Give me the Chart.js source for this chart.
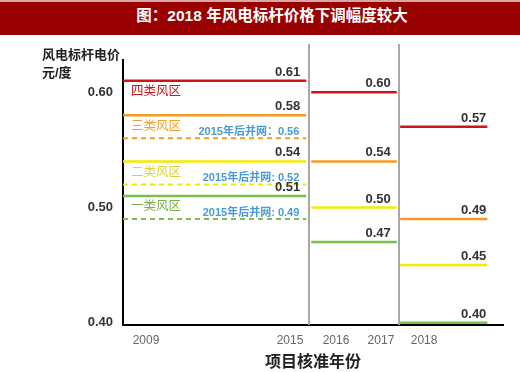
<!DOCTYPE html>
<html lang="zh">
<head>
<meta charset="UTF-8">
<title>风电标杆电价</title>
<script src="https://cdn.jsdelivr.net/npm/chart.js"></script>
<style>
    body {
        margin: 0;
        background: #fff;
        font-family: Arial, "Liberation Sans", "Noto Sans CJK SC", sans-serif;
    }
    .title {
        width: 520px;
        height: 35px;
        box-sizing: border-box;
        border-top: 2px solid #d9a6a6;
        background: #990000;
        color: #fff;
        font-weight: bold;
        font-size: 15.5px;
        line-height: 28px;
        text-align: center;
        padding-left: 24px;
    }
</style>
</head>
<body>
<div class="title">图：2018 年风电标杆价格下调幅度较大</div>
<canvas id="chart" width="520" height="337"></canvas>

<script>
// data
const zones = ['四类风区', '三类风区', '二类风区', '一类风区'];
const years = ['2009', '2015', '2016', '2017', '2018'];
const yTicks = [0.40, 0.50, 0.60];
const price0915 = [0.61, 0.58, 0.54, 0.51];
const price1617 = [0.60, 0.54, 0.50, 0.47];
const price18 = [0.57, 0.49, 0.45, 0.40];
const after2015 = [null, 0.56, 0.52, 0.49];
const after2015Sep = ['', '：', ': ', ': '];

// layout on the x axis (axis units)
const yearPos = [1.03, 7.47, 9.53, 11.54, 13.47];
const periodSpan = [[0, 8.2], [8.42, 12.25], [12.4, 16.3]];
const dividers = [8.31, 12.33];

// styles
const lineColors = ['#d0121b', '#f59a23', '#f5ea00', '#7cbf4a'];
const textColors = ['#d0121b', '#f0a030', '#dcd43a', '#79ae4a'];
const FONT = 'Arial, "Liberation Sans", "Noto Sans CJK SC", sans-serif';

const periods = [price0915, price1617, price18];
const datasets = [];
periods.forEach((prices, p) => {
    prices.forEach((v, z) => {
        datasets.push({
            data: [{ x: periodSpan[p][0], y: v }, { x: periodSpan[p][1], y: v }],
            borderColor: lineColors[z],
            borderWidth: 2.5,
            pointRadius: 0,
            kind: 'solid', period: p, zone: z
        });
    });
});
after2015.forEach((v, z) => {
    if (v === null) return;
    datasets.push({
        data: [{ x: periodSpan[0][0], y: v }, { x: periodSpan[0][1], y: v }],
        borderColor: lineColors[z],
        borderWidth: 2,
        borderDash: [5, 4],
        pointRadius: 0,
        kind: 'dash', period: 0, zone: z
    });
});

const decor = {
    id: 'decor',
    beforeDatasetsDraw(chart) {
        const ctx = chart.ctx, xs = chart.scales.x, area = chart.chartArea;
        ctx.save();
        ctx.strokeStyle = '#a8a8a8';
        ctx.lineWidth = 2;
        dividers.forEach(d => {
            const px = Math.round(xs.getPixelForValue(d));
            ctx.beginPath();
            ctx.moveTo(px, 9);
            ctx.lineTo(px, area.bottom);
            ctx.stroke();
        });
        ctx.restore();
    },
    afterDatasetsDraw(chart) {
        const ctx = chart.ctx;
        ctx.save();
        chart.data.datasets.forEach((ds, i) => {
            const pts = chart.getDatasetMeta(i).data;
            const a = pts[0], b = pts[1];
            const v = ds.data[0].y;
            if (ds.kind === 'solid') {
                ctx.font = 'bold 13px ' + FONT;
                ctx.fillStyle = '#333';
                ctx.textAlign = 'right';
                ctx.textBaseline = 'bottom';
                ctx.fillText(v.toFixed(2), b.x - (ds.period === 2 ? 1 : 6), b.y - 2);
                if (ds.period === 0) {
                    ctx.font = '12.5px ' + FONT;
                    ctx.fillStyle = textColors[ds.zone];
                    ctx.textAlign = 'left';
                    ctx.textBaseline = 'middle';
                    ctx.fillText(zones[ds.zone], a.x + 8, a.y + 11);
                }
            } else {
                ctx.font = 'bold 11px ' + FONT;
                ctx.fillStyle = '#4a9ad6';
                ctx.textAlign = 'right';
                ctx.textBaseline = 'middle';
                ctx.fillText('2015年后并网' + after2015Sep[ds.zone] + v.toFixed(2), b.x - 7, b.y - 6);
            }
        });
        // y axis caption
        ctx.font = 'bold 13px ' + FONT;
        ctx.fillStyle = '#222';
        ctx.textAlign = 'left';
        ctx.textBaseline = 'middle';
        ctx.fillText('风电标杆电价', 42, 20);
        ctx.fillText('元/度', 42, 38);
        ctx.restore();
    }
};

new Chart(document.getElementById('chart'), {
    type: 'line',
    data: { datasets },
    options: {
        responsive: false,
        animation: false,
        devicePixelRatio: 1,
        layout: { padding: { top: 25, right: 17, left: 0, bottom: 0 } },
        plugins: { legend: { display: false }, tooltip: { enabled: false } },
        scales: {
            x: {
                type: 'linear', min: 0, max: 17,
                grid: { display: false, drawTicks: false },
                border: { color: '#000', width: 2 },
                afterBuildTicks: s => { s.ticks = yearPos.map(v => ({ value: v })); },
                ticks: {
                    autoSkip: false, maxRotation: 0, padding: 8,
                    color: '#666', font: { size: 12, family: FONT },
                    callback: (v, i) => years[i]
                },
                title: {
                    display: true, text: '项目核准年份', color: '#222',
                    font: { size: 16, weight: 'bold', family: FONT },
                    padding: { top: 2, bottom: 0 }
                },
                afterFit: s => { s.height = 47; }
            },
            y: {
                min: 0.398, max: 0.628,
                grid: { display: false, drawTicks: false },
                border: { color: '#000', width: 2 },
                afterBuildTicks: s => { s.ticks = yTicks.map(v => ({ value: v })); },
                ticks: {
                    padding: 10, color: '#333',
                    font: { size: 13, weight: 'bold', family: FONT },
                    callback: v => v.toFixed(2)
                },
                afterFit: s => { s.width = 123; }
            }
        }
    },
    plugins: [decor]
});
</script>
</body>
</html>
